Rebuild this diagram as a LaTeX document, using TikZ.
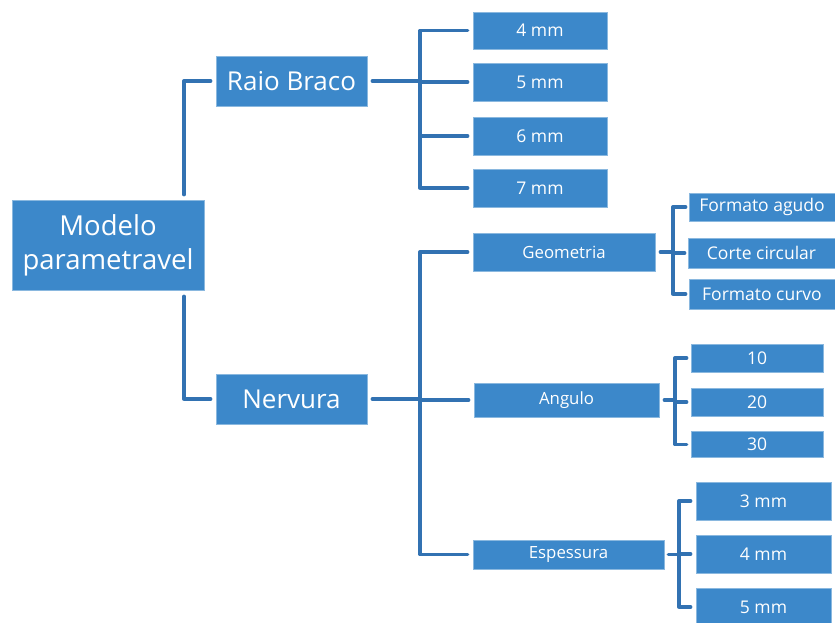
\documentclass[tikz,border=0pt]{standalone}
\usepackage{fontspec}
\setmainfont{Open Sans}
\definecolor{boxfill}{RGB}{60,136,202}
\definecolor{linecol}{RGB}{50,114,178}
\begin{document}
\begin{tikzpicture}[x=1pt,y=-1pt,
  box/.style={fill=boxfill,draw=boxfill!60!white,line width=0.6pt,text=white,inner sep=0pt,anchor=center},
  conn/.style={draw=linecol,line width=3.3pt,line join=round,line cap=round},
  big/.style={font=\fontsize{26}{30}\selectfont},
  mid/.style={font=\fontsize{16.8}{20}\selectfont},
  small/.style={font=\fontsize{17.5}{20}\selectfont}]
\useasboundingbox (0,0) rectangle (835,622);
\fill[white] (0,0) rectangle (835,622);
% root
\node[box,minimum width=192pt,minimum height=90pt,align=center,font=\fontsize{27.5}{34}\selectfont] (root) at (108,245) {Modelo\\parametravel};
% level 1
\node[box,big,minimum width=151pt,minimum height=50pt] (raio) at (291.5,81) {Raio Braco};
\node[box,big,minimum width=151pt,minimum height=50pt] (nerv) at (291.5,399) {Nervura};
% raio children
\node[box,small,minimum width=134pt,minimum height=37pt] (r4) at (540,30.5) {4 mm};
\node[box,small,minimum width=134pt,minimum height=38pt] (r5) at (540,82) {5 mm};
\node[box,small,minimum width=134pt,minimum height=38pt] (r6) at (540,136) {6 mm};
\node[box,small,minimum width=134pt,minimum height=38pt] (r7) at (540,188) {7 mm};
% nervura children
\node[box,mid,minimum width=182pt,minimum height=38pt] (geo) at (564,252) {Geometria};
\node[box,mid,minimum width=185pt,minimum height=34pt] (ang) at (566.5,400) {Angulo};
\node[box,mid,minimum width=191pt,minimum height=29pt] (esp) at (568.5,554.5) {Espessura};
% geometria children
\node[box,small,minimum width=146pt,minimum height=28pt] (g1) at (762,207) {Formato agudo};
\node[box,small,minimum width=147pt,minimum height=30pt] (g2) at (761.5,253) {Corte circular};
\node[box,small,minimum width=146pt,minimum height=30pt] (g3) at (762,294) {Formato curvo};
% angulo children
\node[box,small,minimum width=132pt,minimum height=28pt] (a1) at (757,358) {10};
\node[box,small,minimum width=132pt,minimum height=28pt] (a2) at (757,402) {20};
\node[box,small,minimum width=132pt,minimum height=26pt] (a3) at (757,444.5) {30};
% espessura children
\node[box,small,minimum width=135pt,minimum height=38pt] (e1) at (763.5,501) {3 mm};
\node[box,small,minimum width=135pt,minimum height=38pt] (e2) at (763.5,554) {4 mm};
\node[box,small,minimum width=135pt,minimum height=38pt] (e3) at (763.5,607) {5 mm};
% connectors root
\draw[conn] ([xshift=-5pt]raio.west) -| ([yshift=5pt]root.north -| 184,0);
\draw[conn] ([xshift=-5pt]nerv.west) -| ([yshift=-6pt]root.south -| 184,0);
% raio bus
\coordinate (rbus) at (420,81);
\draw[conn] ([xshift=5pt]raio.east) -- (rbus);
\foreach \c in {r4,r5,r6,r7} \draw[conn] ([xshift=-5pt]\c.west) -| (rbus);
% nervura bus
\coordinate (nbus) at (420,399);
\draw[conn] ([xshift=5pt]nerv.east) -- (nbus);
\foreach \c in {geo,ang,esp} \draw[conn] ([xshift=-5pt]\c.west) -| (nbus);
% geometria bus
\coordinate (gbus) at (673,252);
\draw[conn] ([xshift=5pt]geo.east) -- (gbus);
\foreach \c in {g1,g2,g3} \draw[conn] ([xshift=-3pt]\c.west) -| (gbus);
% angulo bus
\coordinate (abus) at (675,400);
\draw[conn] ([xshift=5pt]ang.east) -- (abus);
\foreach \c in {a1,a2,a3} \draw[conn] ([xshift=-4pt]\c.west) -| (abus);
% espessura bus
\coordinate (ebus) at (679,554.5);
\draw[conn] ([xshift=4pt]esp.east) -- (ebus);
\foreach \c in {e1,e2,e3} \draw[conn] ([xshift=-5pt]\c.west) -| (ebus);
\end{tikzpicture}
\end{document}
